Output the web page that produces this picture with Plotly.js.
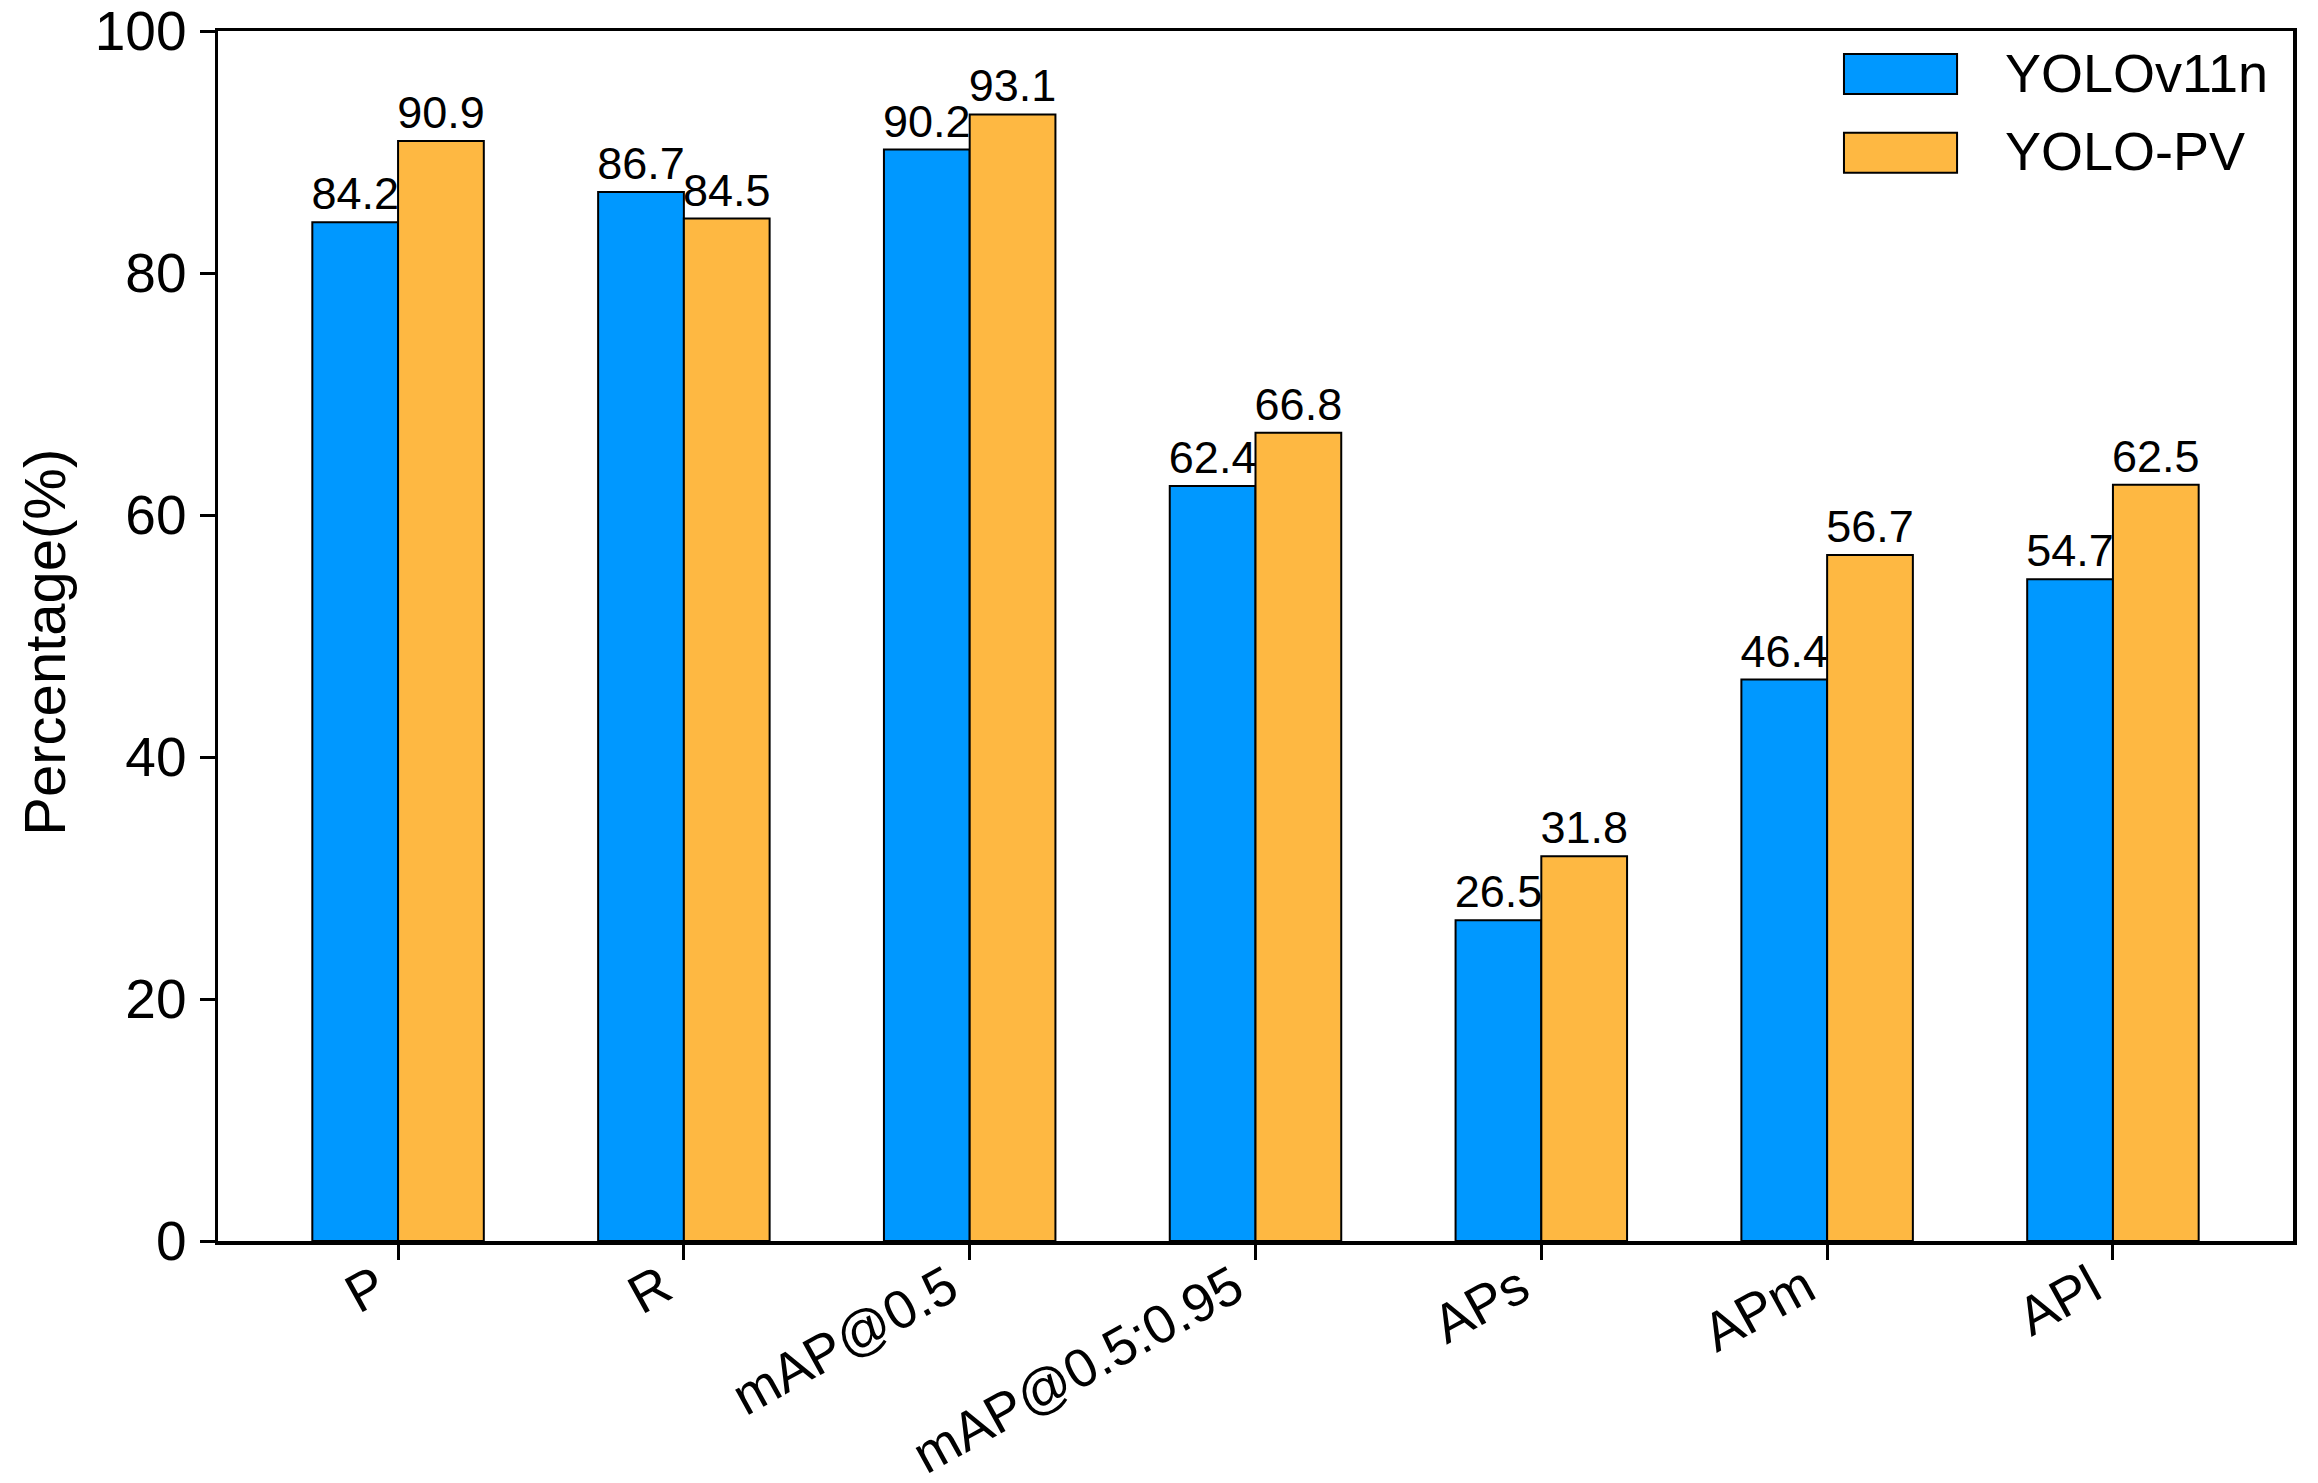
<!DOCTYPE html>
<html>
<head>
<meta charset="utf-8">
<script src="https://cdn.plot.ly/plotly-3.0.1.min.js"></script>
<style>
  html, body { margin: 0; padding: 0; background: #ffffff; }
  #chart { width: 2318px; height: 1483px; }
</style>
</head>
<body>
<div id="chart"></div>
<script>
// ---- data ----
const categories = ['P', 'R', 'mAP@0.5', 'mAP@0.5:0.95', 'APs', 'APm', 'APl'];
const yolov11n = [84.2, 86.7, 90.2, 62.4, 26.5, 46.4, 54.7];
const yolopv = [90.9, 84.5, 93.1, 66.8, 31.8, 56.7, 62.5];
const seriesNames = ['YOLOv11n', 'YOLO-PV'];
const yTickValues = [0, 20, 40, 60, 80, 100];
const yTitle = 'Percentage(%)';

// ---- style ----
const FONT = 'Liberation Sans, Arial, Helvetica, sans-serif';
const colors = ['#0098FF', '#FEB842'];
const seriesValues = [yolov11n, yolopv];

const traces = seriesValues.map((vals, i) => ({
  type: 'bar',
  name: seriesNames[i],
  x: categories,
  y: vals,
  text: vals.map(v => v.toFixed(1)),
  textposition: 'outside',
  constraintext: 'none',
  cliponaxis: false,
  textfont: { family: FONT, size: 45, color: '#000000' },
  marker: { color: colors[i], line: { color: '#000000', width: 2 } },
  hoverinfo: 'x+y',
  showlegend: false
}));

// rotated category labels (right/top aligned like the reference)
const catAnns = categories.map(c => ({
  xref: 'x', yref: 'paper', x: c, y: 0, yshift: -10,
  xanchor: 'right', yanchor: 'top', textangle: -29, showarrow: false,
  text: c, font: { family: FONT, size: 54, color: '#000000' }
}));

// y-axis title
const yTitleAnn = {
  xref: 'paper', yref: 'paper', x: -0.0834, y: 0.4953,
  xanchor: 'center', yanchor: 'middle', textangle: -90, showarrow: false,
  text: yTitle, font: { family: FONT, size: 58, color: '#000000' }
};

// custom legend (large patches like the reference)
const legendShapes = [];
const legendAnns = [];
const legendRows = [
  { y0: 0.948, y1: 0.981, ty: 0.9655 },
  { y0: 0.8829, y1: 0.916, ty: 0.9005 }
];
seriesNames.forEach((name, i) => {
  const r = legendRows[i];
  legendShapes.push({
    type: 'rect', xref: 'paper', yref: 'paper',
    x0: 0.7836, x1: 0.8381, y0: r.y0, y1: r.y1,
    fillcolor: colors[i], line: { color: '#000000', width: 2 }
  });
  legendAnns.push({
    xref: 'paper', yref: 'paper', x: 0.8602, y: r.ty,
    xanchor: 'left', yanchor: 'middle', showarrow: false,
    text: name, font: { family: FONT, size: 54, color: '#000000' }
  });
});

const layout = {
  width: 2318,
  height: 1483,
  margin: { l: 218, r: 25, t: 31, b: 242, pad: 0 },
  paper_bgcolor: '#ffffff',
  plot_bgcolor: '#ffffff',
  font: { family: FONT, color: '#000000' },
  barmode: 'group',
  bargap: 0.4,
  bargroupgap: 0,
  showlegend: false,
  xaxis: {
    type: 'category',
    range: [-0.63, 6.63],
    showgrid: false,
    zeroline: false,
    showline: true,
    linecolor: '#000000',
    linewidth: 3.5,
    mirror: true,
    ticks: 'outside',
    ticklen: 15,
    tickwidth: 3,
    tickcolor: '#000000',
    showticklabels: false
  },
  yaxis: {
    range: [0, 100],
    tickvals: yTickValues,
    ticktext: yTickValues.map(String),
    showgrid: false,
    zeroline: false,
    showline: true,
    linecolor: '#000000',
    linewidth: 3.5,
    mirror: true,
    ticks: 'outside',
    ticklen: 15,
    tickwidth: 3,
    tickcolor: '#000000',
    ticklabelstandoff: 2,
    tickfont: { family: FONT, size: 55, color: '#000000' }
  },
  shapes: legendShapes,
  annotations: legendAnns.concat(catAnns, [yTitleAnn])
};

Plotly.newPlot('chart', traces, layout, { displayModeBar: false, staticPlot: true });
</script>
</body>
</html>
